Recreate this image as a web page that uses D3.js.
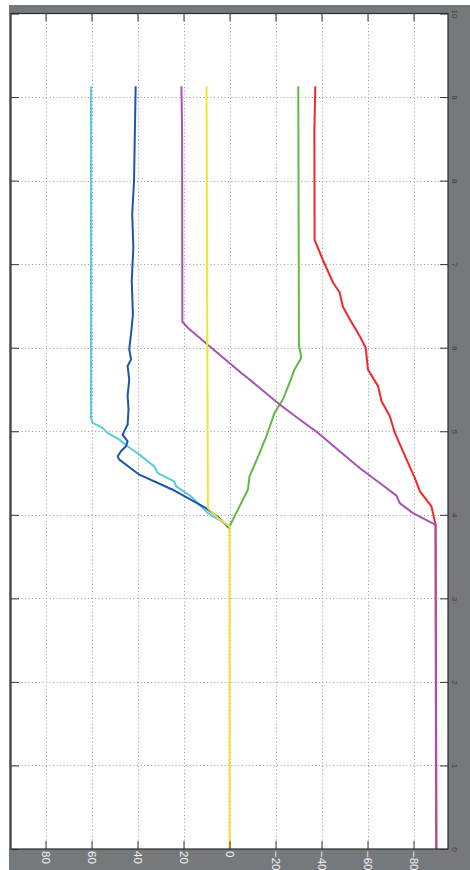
<!DOCTYPE html>
<html>
<head>
<meta charset="utf-8">
<script src="https://cdn.jsdelivr.net/npm/d3@7"></script>
<style>
  html, body { margin: 0; padding: 0; background: #ffffff; }
  svg { display: block; }
</style>
</head>
<body>
<script>
// Time ticks (vertical axis, right side) and value ticks (horizontal axis, bottom)
const timeTicks = [0, 1, 2, 3, 4, 5, 6, 7, 8, 9, 10];
const valueTicks = [80, 60, 40, 20, 0, -20, -40, -60, -80];

// Series: time samples and values
const redT = [0, 3.88, 4.10, 4.28, 4.44, 4.66, 4.98, 5.18, 5.36, 5.54, 5.74, 6.00, 6.14, 6.34, 6.49, 6.66, 6.78, 7.05, 7.29, 8.60, 9.13];
const redV = [-90, -89.6, -87.8, -82.8, -80.6, -77, -71.9, -69.7, -66.1, -64.6, -60.2, -59.2, -56.6, -52.3, -49.3, -47.9, -45, -40.6, -37, -36.9, -37.3];

const purpleT = [0, 3.88, 4.02, 4.14, 4.23, 4.38, 4.56, 4.70, 4.98, 5.14, 5.32, 5.62, 5.70, 6.22, 6.31, 8.57, 9.13];
const purpleV = [-89.8, -89.6, -79.8, -74, -72.6, -65.3, -56.6, -50.5, -38.5, -30.5, -21.8, -8.7, -5.0, 17.4, 20.5, 20.6, 20.9];

const greenT = [3.86, 4.02, 4.30, 4.46, 4.74, 4.94, 5.22, 5.38, 5.58, 5.74, 5.88, 6.04, 9.13];
const greenV = [0, -2.9, -8, -8.7, -13.1, -16, -19.6, -23.2, -26.1, -28.3, -31.2, -30.2, -29.9];

const cyanT = [3.86, 3.94, 3.98, 4.02, 4.22, 4.34, 4.40, 4.50, 4.58, 4.72, 4.82, 4.90, 4.98, 5.04, 5.10, 5.16, 9.13];
const cyanV = [0, 4.4, 7.3, 9.4, 16.7, 23.2, 24, 31.2, 32.7, 39.2, 44.3, 47.9, 53, 55.2, 59.5, 60.2, 60.2];

const blueT = [3.84, 3.96, 4.08, 4.30, 4.48, 4.66, 4.70, 4.76, 4.82, 4.88, 4.96, 5.08, 5.26, 5.42, 5.62, 5.78, 5.86, 5.98, 6.22, 6.40, 6.80, 7.20, 7.60, 8.00, 8.50, 9.13];
const blueV = [0, 4.4, 10.2, 24.7, 39.2, 47.9, 48.6, 47.2, 45, 44.3, 46.5, 44.3, 43.9, 44.3, 43.6, 44.3, 42.8, 43.6, 42.6, 42.0, 42.5, 41.8, 42.3, 41.5, 41.2, 40.8];

const yellowT = [0, 3.86, 3.96, 4.08, 6.50, 9.13];
const yellowV = [0, 0, 5, 9.4, 9.7, 10];

const W = 470, H = 870;
const box = { left: 11, right: 448, top: 13.5, bottom: 849 };

const svg = d3.select("body").append("svg").attr("width", W).attr("height", H);

// Figure background
svg.append("rect").attr("x", 9).attr("y", 5).attr("width", W - 9).attr("height", H - 5).attr("fill", "#76797c");
svg.append("rect").attr("x", box.left).attr("y", box.top)
  .attr("width", box.right - box.left).attr("height", box.bottom - box.top).attr("fill", "#ffffff");

const x = d3.scaleLinear().domain([95, -95]).range([box.left, box.right]);
const y = d3.scaleLinear().domain([0, 10]).range([box.bottom, box.top]);

// Dotted grid
const grid = svg.append("g").attr("stroke", "#9a9a9a").attr("stroke-width", 1).attr("stroke-dasharray", "1,2.5");
grid.selectAll("line.v").data(valueTicks).join("line")
  .attr("x1", d => Math.round(x(d)) + 0.5).attr("x2", d => Math.round(x(d)) + 0.5)
  .attr("y1", box.top).attr("y2", box.bottom);
grid.selectAll("line.h").data(timeTicks.slice(1, -1)).join("line")
  .attr("y1", d => Math.round(y(d)) + 0.5).attr("y2", d => Math.round(y(d)) + 0.5)
  .attr("x1", box.left).attr("x2", box.right);

// Data lines
const series = [
  { t: redT, v: redV, color: "#f0282a" },
  { t: greenT, v: greenV, color: "#62b944" },
  { t: cyanT, v: cyanV, color: "#5ccbdb" },
  { t: blueT, v: blueV, color: "#2054aa" },
  { t: purpleT, v: purpleV, color: "#a453b3" },
  { t: yellowT, v: yellowV, color: "#ede534" }
];
const line = d3.line().x(d => x(d[1])).y(d => y(d[0])).curve(d3.curveLinear);
svg.append("g").selectAll("path").data(series).join("path")
  .attr("d", s => line(d3.zip(s.t, s.v)))
  .attr("fill", "none")
  .attr("stroke", s => s.color)
  .attr("stroke-width", 2)
  .attr("stroke-linejoin", "round");

// Axes with inward ticks on all four sides
const tickLen = 8;
const bottomAxis = d3.axisBottom(x).tickValues(valueTicks).tickSize(-tickLen).tickFormat(d3.format("d"));
const topAxis = d3.axisTop(x).tickValues(valueTicks).tickSize(-tickLen).tickFormat("");
const rightAxis = d3.axisRight(y).tickValues(timeTicks).tickSize(-tickLen).tickFormat(d3.format("d"));
const leftAxis = d3.axisLeft(y).tickValues(timeTicks).tickSize(-tickLen).tickFormat("");

function styleAxis(g) {
  g.select(".domain").remove();
  g.selectAll(".tick line").attr("stroke", "#333").attr("stroke-width", 1);
}

const gb = svg.append("g").attr("transform", `translate(0,${box.bottom})`).call(bottomAxis).call(styleAxis);
gb.selectAll(".tick text")
  .attr("transform", "translate(0,2) rotate(90)")
  .attr("x", 0).attr("y", 0).attr("dy", "0.35em")
  .attr("text-anchor", "start")
  .attr("fill", "#f2f2f2")
  .style("font-family", "'Liberation Sans', Arial, sans-serif")
  .style("font-size", "11.5px");

svg.append("g").attr("transform", `translate(0,${box.top})`).call(topAxis).call(styleAxis);
svg.append("g").attr("transform", `translate(${box.left},0)`).call(leftAxis).call(styleAxis);

const gr = svg.append("g").attr("transform", `translate(${box.right},0)`).call(rightAxis).call(styleAxis);
gr.selectAll(".tick text")
  .attr("transform", "translate(7,0) rotate(90)")
  .attr("x", 0).attr("y", 0).attr("dy", "0.35em")
  .attr("text-anchor", "middle")
  .attr("fill", "#3a3a3a")
  .style("font-family", "'Liberation Sans', Arial, sans-serif")
  .style("font-size", "8px");

// Frame
svg.append("rect").attr("x", box.left).attr("y", box.top)
  .attr("width", box.right - box.left).attr("height", box.bottom - box.top)
  .attr("fill", "none").attr("stroke", "#2b2b2b").attr("stroke-width", 1.2);
</script>
</body>
</html>
